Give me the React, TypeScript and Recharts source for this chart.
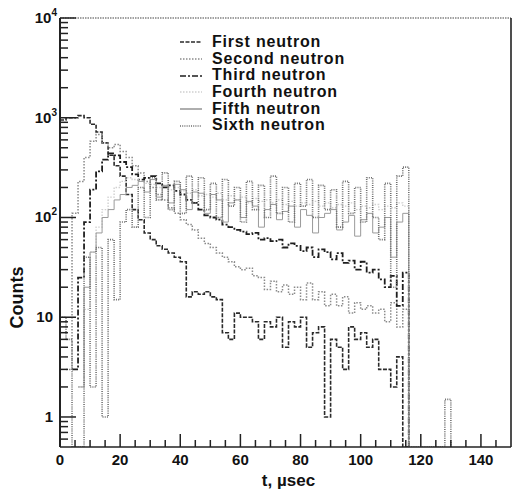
import { LineChart, Line, XAxis, YAxis, Legend, ReferenceLine } from 'recharts'

// bin start times, µsec (2 µsec bins)
const TIME = [
  0, 2, 4, 6, 8, 10, 12, 14, 16, 18,
  20, 22, 24, 26, 28, 30, 32, 34, 36, 38,
  40, 42, 44, 46, 48, 50, 52, 54, 56, 58,
  60, 62, 64, 66, 68, 70, 72, 74, 76, 78,
  80, 82, 84, 86, 88, 90, 92, 94, 96, 98,
  100, 102, 104, 106, 108, 110, 112, 114, 116, 118,
  120, 122, 124, 126, 128, 130,
]

const FIRST = [
  950, 1000, 1000, 1050, 1000, 860, 720, 560, 420, 330,
  260, 170, 120, 95, 70, 60, 52, 48, 44, 40,
  36, 16, 18, 17, 18, 16, 15, 7, 6, 11,
  10, 10, 9, 6, 9, 8, 10, 5, 9, 8,
  10, 5, 7, 8, 1, 6, 5, 3, 8, 6,
  7, 5, 6, 3, 3, 2, 4, 0.5, 0.5, null,
  null, null, null, null, null, null,
]

const SECOND = [
  null, 3, 110, 230, 400, 580, 680, 560, 500, 540,
  460, 400, 330, 280, 230, 200, 170, 150, 125, 110,
  95, 85, 75, 62, 55, 50, 44, 40, 36, 32,
  30, 31, 26, 25, 19, 23, 18, 21, 17, 20,
  15, 22, 15, 18, 13, 17, 13, 16, 11, 14,
  12, 13, 11, 12, 9, 14, 8, 12, 0.5, null,
  null, null, null, null, null, null,
]

const THIRD = [
  null, null, 3, 25, 90, 190, 290, 380, 440, 420,
  360, 320, 270, 240, 250, 260, 220, 200, 210, 185,
  170, 150, 140, 120, 105, 100, 95, 85, 80, 75,
  72, 68, 70, 60, 62, 58, 60, 50, 55, 52,
  46, 50, 40, 48, 45, 38, 44, 35, 37, 30,
  36, 28, 30, 24, 20, 26, 13, 28, 0.5, null,
  null, null, null, null, null, null,
]

const FOURTH = [
  null, null, null, 2, 12, 45, 80, 120, 160, 200,
  230, 250, 240, 230, 220, 215, 200, 210, 190, 200,
  185, 175, 190, 165, 170, 160, 175, 150, 165, 150,
  160, 140, 155, 145, 150, 140, 150, 135, 145, 130,
  140, 135, 145, 130, 140, 125, 135, 130, 140, 120,
  130, 125, 135, 120, 130, 125, 140, 130, 0.5, null,
  null, null, null, null, null, null,
]

const FIFTH = [
  null, null, null, 2, 20, 45, 70, 100, 120, 150,
  170, 200, 210, 230, 180, 240, 160, 210, 140, 215,
  190, 120, 180, 175, 110, 170, 150, 90, 140, 150,
  100, 145, 130, 80, 120, 135, 95, 115, 130, 80,
  120, 105, 70, 100, 110, 120, 75, 90, 105, 65,
  95, 110, 70, 80, 100, 40, 90, 110, 0.5, null,
  null, null, null, null, null, null,
]

const SIXTH = [
  10, 6, 0.5, 0.5, 40, 2, 50, 1, 60, 15,
  90, 120, 80, 200, 100, 250, 150, 280, 120, 230,
  110, 260, 140, 250, 120, 220, 100, 240, 130, 200,
  90, 230, 120, 210, 100, 260, 110, 200, 90, 220,
  130, 240, 100, 210, 120, 190, 80, 230, 110, 200,
  90, 250, 100, 60, 220, 20, 260, 320, 0.5, 0.5,
  0.5, 0.5, 0.5, 0.5, 1.5, 0.5,
]

const SERIES = [
  { key: 'first', name: 'First neutron', values: FIRST, color: '#2a2a2a', dash: '4 1.5', width: 1.6 },
  { key: 'second', name: 'Second neutron', values: SECOND, color: '#8a8a8a', dash: '1.5 1.5', width: 1.5 },
  { key: 'third', name: 'Third neutron', values: THIRD, color: '#1e1e1e', dash: '6 2 2 2', width: 1.8 },
  { key: 'fourth', name: 'Fourth neutron', values: FOURTH, color: '#d0d0d0', dash: '1.5 1.5', width: 1.4 },
  { key: 'fifth', name: 'Fifth neutron', values: FIFTH, color: '#9a9a9a', dash: undefined, width: 1 },
  { key: 'sixth', name: 'Sixth neutron', values: SIXTH, color: '#6e6e6e', dash: '1 1.2', width: 1.6 },
]

const X_TICKS = [0, 5, 10, 15, 20, 25, 30, 35, 40, 45, 50, 55, 60, 65, 70, 75, 80, 85, 90, 95, 100, 105, 110, 115, 120, 125, 130, 135, 140, 145]
const Y_TICKS = [
  0.6, 0.7, 0.8, 0.9, 1, 2, 3, 4, 5, 6, 7, 8, 9,
  10, 20, 30, 40, 50, 60, 70, 80, 90,
  100, 200, 300, 400, 500, 600, 700, 800, 900,
  1000, 2000, 3000, 4000, 5000, 6000, 7000, 8000, 9000, 10000,
]
const Y_LABELS: Record<number, [string, string]> = {
  1: ['1', ''],
  10: ['10', ''],
  100: ['10', '2'],
  1000: ['10', '3'],
  10000: ['10', '4'],
}

const data = TIME.map((t, i) => {
  const row: Record<string, number | null> = { t }
  SERIES.forEach((s) => {
    row[s.key] = s.values[i]
  })
  return row
})

const FONT = '"Liberation Sans", Arial, Helvetica, sans-serif'
const PLOT_LEFT = 60
const PLOT_BOTTOM = 447

function XTick(props: any) {
  const { x, payload } = props
  const v = payload.value
  const major = v % 20 === 0
  return (
    <g>
      <line x1={x} x2={x} y1={PLOT_BOTTOM} y2={PLOT_BOTTOM - (major ? 13 : 7)} stroke="#222" strokeWidth={1.5} />
      {major && (
        <text x={x} y={PLOT_BOTTOM + 18} textAnchor="middle" fontFamily={FONT} fontWeight="bold" fontSize={15} fill="#111">
          {v}
        </text>
      )}
    </g>
  )
}

function YTick(props: any) {
  const { y, payload } = props
  const v = payload.value
  const label = Y_LABELS[v]
  return (
    <g>
      <line x1={PLOT_LEFT} x2={PLOT_LEFT + (label ? 16 : 8)} y1={y} y2={y} stroke="#222" strokeWidth={1.5} />
      {label && (
        <text x={label[1] ? 57 : 53} y={y + 5} textAnchor="end" fontFamily={FONT} fontWeight="bold" fontSize={15} fill="#111">
          <tspan>{label[0]}</tspan>
          {label[1] && (
            <tspan dy={-7} fontSize={10}>
              {label[1]}
            </tspan>
          )}
        </text>
      )}
    </g>
  )
}

function renderLegend() {
  return (
    <div style={{ fontFamily: FONT, fontWeight: 'bold', fontSize: 16, color: '#111' }}>
      {SERIES.map((s) => (
        <div key={s.key} style={{ display: 'flex', alignItems: 'center', height: 16.7, lineHeight: '16.7px' }}>
          <svg width={22} height={4} style={{ marginRight: 10 }}>
            <line x1={0} x2={22} y1={2} y2={2} stroke={s.color} strokeWidth={1.6} strokeDasharray={s.dash} />
          </svg>
          <span style={{ letterSpacing: 0.8 }}>{s.name}</span>
        </div>
      ))}
    </div>
  )
}

export default function App() {
  return (
    <div style={{ position: 'absolute', left: 0, top: 0, width: 513, height: 491, background: '#fff' }}>
      <LineChart width={513} height={491} data={data} margin={{ top: 18, right: 2, bottom: 14, left: 0 }}>
        <XAxis
          dataKey="t"
          type="number"
          domain={[0, 150]}
          ticks={X_TICKS}
          interval={0}
          height={30}
          tickLine={false}
          tick={(p: any) => <XTick {...p} />}
          axisLine={{ stroke: '#222', strokeWidth: 1.6 }}
          label={{ value: 't, µsec', position: 'insideBottom', offset: -9, dx: 3, style: { fontFamily: FONT, fontWeight: 'bold', fontSize: 17, fill: '#111' } }}
        />
        <YAxis
          scale="log"
          domain={[0.5, 10000]}
          allowDataOverflow
          ticks={Y_TICKS}
          interval={0}
          width={60}
          tickLine={false}
          tick={(p: any) => <YTick {...p} />}
          axisLine={{ stroke: '#222', strokeWidth: 2 }}
          label={{ value: 'Counts', angle: -90, position: 'insideLeft', offset: 17, dy: 65, style: { fontFamily: FONT, fontWeight: 'bold', fontSize: 18, fill: '#111', textAnchor: 'middle' } }}
        />
        <ReferenceLine y={10000} stroke="#444" strokeWidth={1.2} strokeDasharray="1.5 1" />
        <ReferenceLine x={150} stroke="#222" strokeWidth={1.6} />
        {SERIES.map((s) => (
          <Line
            key={s.key}
            type="stepAfter"
            dataKey={s.key}
            name={s.name}
            stroke={s.color}
            strokeWidth={s.width}
            strokeDasharray={s.dash}
            dot={false}
            activeDot={false}
            connectNulls={false}
            isAnimationActive={false}
          />
        ))}
        <Legend
          layout="vertical"
          align="center"
          verticalAlign="middle"
          content={renderLegend}
          wrapperStyle={{ top: 34, left: 180, width: 220 }}
        />
      </LineChart>
    </div>
  )
}
